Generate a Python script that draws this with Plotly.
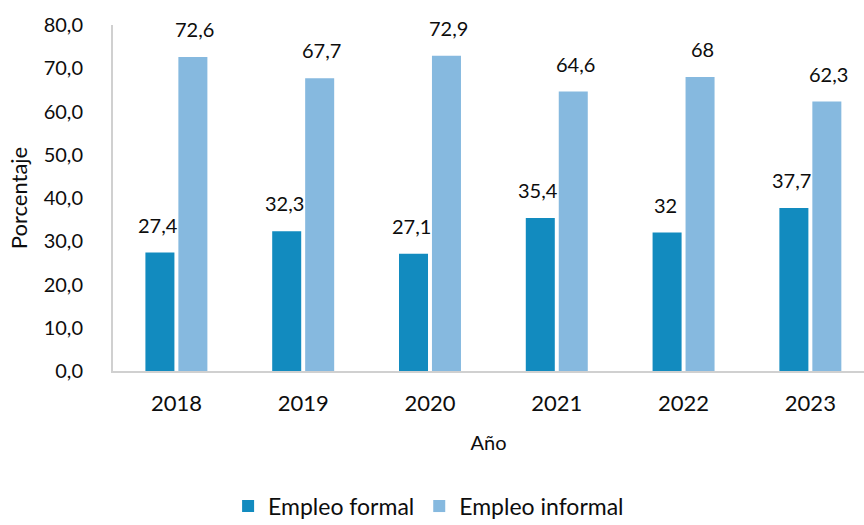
import plotly.graph_objects as go

years = ["2018", "2019", "2020", "2021", "2022", "2023"]
formal = [27.4, 32.3, 27.1, 35.4, 32, 37.7]
informal = [72.6, 67.7, 72.9, 64.6, 68, 62.3]
y_ticks = [0, 10, 20, 30, 40, 50, 60, 70, 80]

COLOR_FORMAL = "#128bbf"
COLOR_INFORMAL = "#86b9df"
FONT = "Lato"
TXT = "#0d0d0d"


def fmt(v):
    s = f"{v:g}"
    return s.replace(".", ",")


fig = go.Figure()
fig.add_trace(go.Bar(x=years, y=formal, name="Empleo formal",
                     marker=dict(color=COLOR_FORMAL, line=dict(width=0))))
fig.add_trace(go.Bar(x=years, y=informal, name="Empleo informal",
                     marker=dict(color=COLOR_INFORMAL, line=dict(width=0))))

# value labels above each bar (category index positions, shifted to each bar)
annotations = []
for i, yr in enumerate(years):
    for vals, dx in ((formal, -18.5), (informal, 18.5)):
        annotations.append(dict(
            x=i, y=vals[i], xref="x", yref="y", text=fmt(vals[i]), showarrow=False,
            xanchor="center", yanchor="bottom", xshift=dx, yshift=14,
            font=dict(family=FONT, size=20, color=TXT)))

fig.update_layout(
    width=864, height=525,
    margin=dict(l=113, r=0, t=25, b=154, autoexpand=False),
    paper_bgcolor="white", plot_bgcolor="white",
    barmode="group", bargap=0.48, bargroupgap=0.12,
    separators=", ",
    font=dict(family=FONT, size=20, color=TXT),
    showlegend=True,
    legend=dict(orientation="h", xref="container", x=0.264, xanchor="left",
                yref="container", y=0.036, yanchor="middle",
                font=dict(family=FONT, size=23, color=TXT),
                traceorder="normal"),
    annotations=annotations,
)
fig.update_xaxes(
    type="category", range=[-0.5, 5.423], showline=True, linecolor="#d0d0d0", linewidth=2,
    showgrid=False, ticks="", ticklabelstandoff=12,
    tickfont=dict(family=FONT, size=22, color=TXT),
    title=dict(text="Año", font=dict(family=FONT, size=20, color=TXT), standoff=21),
)
fig.update_yaxes(
    range=[0, 80], tickvals=y_ticks, tickformat=".1f", showline=True,
    linecolor="#d0d0d0", linewidth=2, showgrid=False, zeroline=False, ticks="",
    ticklabelstandoff=24, tickfont=dict(family=FONT, size=20, color=TXT),
    title=dict(text="Porcentaje", font=dict(family=FONT, size=22, color=TXT), standoff=10),
)

fig.write_html("out.html")
